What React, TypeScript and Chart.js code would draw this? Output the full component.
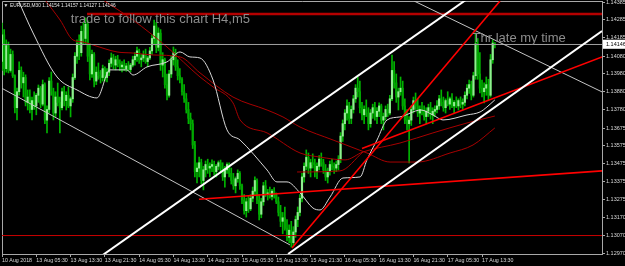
import React, { useEffect, useRef } from 'react';
import { Chart, registerables } from 'chart.js';

Chart.register(...registerables);

// ---------- candle data (EURUSD M30) ----------
const opens = [
  1.14050,1.14200,1.14010,1.14140,1.14000,1.14090,1.13970,1.13790,1.13880,1.14000,
  1.13930,1.13960,1.13820,1.13850,1.13780,1.13830,1.13800,1.13860,1.13900,1.13810,
  1.13920,1.13720,1.13780,1.13940,1.13880,1.13760,1.13850,1.13820,1.13790,1.13880,
  1.13830,1.13860,1.13800,1.13840,1.13960,1.14080,1.14150,1.14100,1.14220,1.14180,
  1.14260,1.14080,1.13980,1.14090,1.13940,1.13990,1.13970,1.13960,1.14010,1.13960,
  1.13990,1.14040,1.14070,1.14030,1.14060,1.14040,1.14020,1.14030,1.14010,1.14025,
  1.14005,1.14030,1.14060,1.14080,1.14110,1.14060,1.14070,1.14090,1.14050,1.14070,
  1.14110,1.14180,1.14250,1.14130,1.14210,1.14030,1.14060,1.13920,1.13860,1.13980,
  1.14060,1.14100,1.14020,1.13970,1.13950,1.13880,1.13840,1.13780,1.13730,1.13700,
  1.13580,1.13430,1.13450,1.13480,1.13380,1.13440,1.13470,1.13450,1.13460,1.13470,
  1.13430,1.13460,1.13480,1.13450,1.13400,1.13440,1.13470,1.13420,1.13380,1.13350,
  1.13390,1.13420,1.13350,1.13270,1.13210,1.13260,1.13220,1.13280,1.13320,1.13380,
  1.13270,1.13190,1.13260,1.13350,1.13300,1.13310,1.13290,1.13320,1.13300,1.13260,
  1.13200,1.13150,1.13170,1.13110,1.13060,1.13100,1.13030,1.13090,1.13160,1.13200,
  1.13280,1.13400,1.13460,1.13510,1.13450,1.13480,1.13470,1.13430,1.13460,1.13500,
  1.13480,1.13440,1.13400,1.13430,1.13470,1.13460,1.13450,1.13470,1.13500,1.13630,
  1.13700,1.13760,1.13800,1.13730,1.13780,1.13840,1.13900,1.13880,1.13790,1.13750,
  1.13780,1.13760,1.13700,1.13760,1.13790,1.13740,1.13770,1.13800,1.13720,1.13740,
  1.13780,1.13760,1.13840,1.14000,1.13930,1.13850,1.13880,1.13900,1.13800,1.13720,
  1.13700,1.13720,1.13780,1.13830,1.13800,1.13760,1.13780,1.13770,1.13740,1.13770,
  1.13790,1.13750,1.13770,1.13780,1.13800,1.13840,1.13820,1.13790,1.13830,1.13810,
  1.13840,1.13800,1.13820,1.13800,1.13830,1.13810,1.13820,1.13860,1.13900,1.13920,
  1.13860,1.13970,1.14150,1.13980,1.13900,1.13880,1.13900,1.13920,1.13860,1.14060,
  1.14154,
];
const highs = [
  1.14267,1.14230,1.14172,1.14160,1.14120,1.14110,1.13975,1.13900,1.14048,1.14020,
  1.13990,1.13975,1.13890,1.13890,1.13850,1.13880,1.13870,1.13918,1.13910,1.13946,
  1.13930,1.13800,1.13960,1.13991,1.13900,1.13880,1.13929,1.13850,1.13900,1.13910,
  1.13880,1.13907,1.13850,1.13980,1.14100,1.14172,1.14200,1.14250,1.14270,1.14296,
  1.14280,1.14150,1.14115,1.14100,1.14020,1.14042,1.14000,1.14030,1.14020,1.14010,
  1.14060,1.14098,1.14090,1.14080,1.14085,1.14059,1.14050,1.14059,1.14040,1.14050,
  1.14040,1.14080,1.14100,1.14132,1.14120,1.14090,1.14110,1.14120,1.14080,1.14130,
  1.14200,1.14284,1.14270,1.14240,1.14230,1.14100,1.14070,1.13980,1.14000,1.14080,
  1.14132,1.14120,1.14060,1.14010,1.13960,1.13920,1.13870,1.13820,1.13760,1.13721,
  1.13600,1.13480,1.13512,1.13500,1.13460,1.13490,1.13500,1.13480,1.13496,1.13490,
  1.13470,1.13490,1.13495,1.13480,1.13460,1.13480,1.13479,1.13450,1.13420,1.13400,
  1.13440,1.13430,1.13360,1.13300,1.13280,1.13290,1.13300,1.13343,1.13400,1.13390,
  1.13300,1.13280,1.13370,1.13380,1.13330,1.13343,1.13330,1.13340,1.13310,1.13287,
  1.13240,1.13200,1.13230,1.13160,1.13130,1.13150,1.13120,1.13180,1.13231,1.13300,
  1.13420,1.13480,1.13552,1.13535,1.13500,1.13530,1.13500,1.13480,1.13520,1.13535,
  1.13500,1.13470,1.13450,1.13490,1.13500,1.13480,1.13490,1.13520,1.13650,1.13721,
  1.13780,1.13834,1.13820,1.13800,1.13860,1.13920,1.13963,1.13940,1.13820,1.13800,
  1.13834,1.13790,1.13780,1.13810,1.13820,1.13790,1.13817,1.13810,1.13760,1.13800,
  1.13810,1.13860,1.14087,1.14050,1.13980,1.13900,1.13963,1.13940,1.13840,1.13780,
  1.13740,1.13800,1.13850,1.13873,1.13840,1.13800,1.13820,1.13800,1.13790,1.13810,
  1.13820,1.13790,1.13800,1.13830,1.13860,1.13890,1.13850,1.13840,1.13880,1.13850,
  1.13870,1.13830,1.13851,1.13840,1.13851,1.13840,1.13880,1.13920,1.13946,1.13940,
  1.13990,1.14211,1.14180,1.14100,1.13946,1.13930,1.13963,1.13950,1.14090,1.14172,
  1.14157,
];
const lows = [
  1.14000,1.13974,1.13990,1.13986,1.13990,1.13960,1.13760,1.13721,1.13860,1.13900,
  1.13850,1.13800,1.13777,1.13760,1.13721,1.13780,1.13750,1.13820,1.13790,1.13800,
  1.13700,1.13648,1.13760,1.13860,1.13721,1.13740,1.13800,1.13648,1.13777,1.13800,
  1.13777,1.13790,1.13738,1.13820,1.13950,1.14040,1.14060,1.14080,1.14150,1.14150,
  1.14050,1.13946,1.13960,1.13907,1.13920,1.13950,1.13929,1.13940,1.13940,1.13935,
  1.13970,1.14020,1.14010,1.14003,1.14020,1.14000,1.13991,1.14000,1.13995,1.14000,
  1.13991,1.14020,1.14030,1.14050,1.14040,1.14020,1.14050,1.14040,1.14020,1.14060,
  1.14090,1.14150,1.14100,1.14110,1.14000,1.13963,1.13900,1.13834,1.13850,1.13960,
  1.14030,1.14000,1.13946,1.13930,1.13860,1.13820,1.13760,1.13700,1.13665,1.13560,
  1.13400,1.13366,1.13400,1.13360,1.13327,1.13400,1.13420,1.13400,1.13430,1.13410,
  1.13400,1.13440,1.13430,1.13380,1.13343,1.13420,1.13400,1.13360,1.13330,1.13310,
  1.13370,1.13330,1.13250,1.13190,1.13174,1.13200,1.13210,1.13260,1.13300,1.13250,
  1.13158,1.13170,1.13240,1.13290,1.13270,1.13280,1.13270,1.13280,1.13250,1.13180,
  1.13120,1.13080,1.13100,1.13040,1.13028,1.13005,1.13010,1.13060,1.13120,1.13180,
  1.13260,1.13370,1.13440,1.13420,1.13400,1.13450,1.13400,1.13390,1.13440,1.13460,
  1.13420,1.13380,1.13366,1.13410,1.13440,1.13420,1.13430,1.13439,1.13480,1.13600,
  1.13665,1.13720,1.13700,1.13700,1.13760,1.13820,1.13850,1.13760,1.13721,1.13700,
  1.13740,1.13665,1.13680,1.13730,1.13720,1.13700,1.13740,1.13700,1.13665,1.13720,
  1.13740,1.13750,1.13830,1.13900,1.13820,1.13777,1.13860,1.13780,1.13700,1.13665,
  1.13479,1.13690,1.13760,1.13780,1.13740,1.13700,1.13750,1.13720,1.13700,1.13740,
  1.13725,1.13700,1.13740,1.13760,1.13780,1.13800,1.13770,1.13760,1.13800,1.13780,
  1.13790,1.13760,1.13790,1.13777,1.13790,1.13780,1.13800,1.13840,1.13870,1.13834,
  1.13850,1.13950,1.13950,1.13873,1.13851,1.13817,1.13860,1.13834,1.13850,1.14040,
  1.14127,
];
const closes = [
  1.14200,1.14010,1.14140,1.14000,1.14090,1.13970,1.13790,1.13880,1.14000,1.13930,
  1.13960,1.13820,1.13850,1.13780,1.13830,1.13800,1.13860,1.13900,1.13810,1.13920,
  1.13720,1.13780,1.13940,1.13880,1.13760,1.13850,1.13820,1.13790,1.13880,1.13830,
  1.13860,1.13800,1.13840,1.13960,1.14080,1.14150,1.14100,1.14220,1.14180,1.14260,
  1.14080,1.13980,1.14090,1.13940,1.13990,1.13970,1.13960,1.14010,1.13960,1.13990,
  1.14040,1.14070,1.14030,1.14060,1.14040,1.14020,1.14030,1.14010,1.14025,1.14005,
  1.14030,1.14060,1.14080,1.14110,1.14060,1.14070,1.14090,1.14050,1.14070,1.14110,
  1.14180,1.14250,1.14130,1.14210,1.14030,1.14060,1.13920,1.13860,1.13980,1.14060,
  1.14100,1.14020,1.13970,1.13950,1.13880,1.13840,1.13780,1.13730,1.13700,1.13580,
  1.13430,1.13450,1.13480,1.13380,1.13440,1.13470,1.13450,1.13460,1.13470,1.13430,
  1.13460,1.13480,1.13450,1.13400,1.13440,1.13470,1.13420,1.13380,1.13350,1.13390,
  1.13420,1.13350,1.13270,1.13210,1.13260,1.13220,1.13280,1.13320,1.13380,1.13270,
  1.13190,1.13260,1.13350,1.13300,1.13310,1.13290,1.13320,1.13300,1.13260,1.13200,
  1.13150,1.13170,1.13110,1.13060,1.13100,1.13030,1.13090,1.13160,1.13200,1.13280,
  1.13400,1.13460,1.13510,1.13450,1.13480,1.13470,1.13430,1.13460,1.13500,1.13480,
  1.13440,1.13400,1.13430,1.13470,1.13460,1.13450,1.13470,1.13500,1.13630,1.13700,
  1.13760,1.13800,1.13730,1.13780,1.13840,1.13900,1.13880,1.13790,1.13750,1.13780,
  1.13760,1.13700,1.13760,1.13790,1.13740,1.13770,1.13800,1.13720,1.13740,1.13780,
  1.13760,1.13840,1.14000,1.13930,1.13850,1.13880,1.13900,1.13800,1.13720,1.13700,
  1.13720,1.13780,1.13830,1.13800,1.13760,1.13780,1.13770,1.13740,1.13770,1.13790,
  1.13750,1.13770,1.13780,1.13800,1.13840,1.13820,1.13790,1.13830,1.13810,1.13840,
  1.13800,1.13820,1.13800,1.13830,1.13810,1.13820,1.13860,1.13900,1.13920,1.13860,
  1.13970,1.14150,1.13980,1.13900,1.13880,1.13900,1.13920,1.13860,1.14060,1.14154,
  1.14146,
];

// ---------- axes ----------
const xTickIndex = [0, 16, 32, 48, 64, 80, 96, 112, 128, 144, 160, 176, 192, 208, 224];
const xTickLabels = [
  '10 Aug 2018', '13 Aug 05:30', '13 Aug 13:30', '13 Aug 21:30', '14 Aug 05:30',
  '14 Aug 13:30', '14 Aug 21:30', '15 Aug 05:30', '15 Aug 13:30', '15 Aug 21:30',
  '16 Aug 05:30', '16 Aug 13:30', '16 Aug 21:30', '17 Aug 05:30', '17 Aug 13:30',
];
const yTickValues = [
  1.1297, 1.1307, 1.1317, 1.13275, 1.13375, 1.13475, 1.13575, 1.13675,
  1.1378, 1.1388, 1.1398, 1.1408, 1.14146, 1.14185, 1.14285, 1.14385,
];
const lastPrice = 1.14146;
const ohlcHeader = 'EURUSD,M30 1.14154 1.14157 1.14127 1.14146';

// ---------- indicators (moving averages), bar index / price ----------
const maWhiteIdx = [7.5, 14.5, 25.7, 35, 44.3, 50.4, 58.3, 61.1, 67.7, 77, 83.1, 87.7, 92.4, 98.5, 105, 111.1, 123.7, 128.3, 133, 139.1, 145.1, 148.4, 153.1, 159.1, 167.1, 170.3, 175, 179.7, 185.7, 195.5, 201.1, 205.8, 217, 223.1, 226.3, 230];
const maWhiteVal = [1.14397, 1.14211, 1.13963, 1.1389, 1.13845, 1.14003, 1.14003, 1.13974, 1.1402, 1.14048, 1.14104, 1.14076, 1.1407, 1.13946, 1.13665, 1.13608, 1.13439, 1.13372, 1.13372, 1.1331, 1.13225, 1.13214, 1.13287, 1.13394, 1.134, 1.13496, 1.13608, 1.13721, 1.13738, 1.13777, 1.13749, 1.13721, 1.13749, 1.13766, 1.13794, 1.13834];
const maSlowIdx = [20.1, 27.1, 33.1, 37.8, 42.5, 53.7, 61.1, 70.5, 83.1, 92.4, 107.8, 123.7, 131.1, 139.1, 154.5, 170.3, 181.1, 193.7, 209.1, 219.8, 230];
const maSlowVal = [1.14397, 1.14284, 1.14172, 1.1416, 1.14143, 1.14104, 1.14098, 1.14087, 1.14076, 1.13986, 1.1385, 1.13777, 1.13738, 1.13681, 1.13608, 1.13535, 1.13484, 1.13484, 1.13535, 1.1358, 1.13676];
const maMidIdx = [47.1, 61.1, 77, 92.4, 98.5, 107.8, 111.1, 123.7, 139.1, 148.4, 160.1, 168.5, 185.7, 201.1, 217, 230];
const maMidVal = [1.14397, 1.14284, 1.14132, 1.13963, 1.13907, 1.13817, 1.13721, 1.13648, 1.13535, 1.13512, 1.13496, 1.13541, 1.13591, 1.13648, 1.13704, 1.13743];
const maShortIdx = [137.7, 157.7, 168.5];
const maShortVal = [1.13428, 1.13434, 1.13541];

// ---------- drawn objects: [bar index, price] ----------
const bidLine = [[0, 1.14146], [280, 1.14146]];
const resistanceLine = [[39.7, 1.14318], [280, 1.14318]];
const supportLine = [[0, 1.1307], [280, 1.1307]];
const descLineA = [[0, 1.13899], [134.4, 1.13017]];
const descLineB = [[192.3, 1.14391], [280, 1.13879]];
const channelUpper = [[45, 1.12943], [220, 1.14427]];
const channelLower = [[133.5, 1.12966], [280, 1.14222]];
const redSteep = [[135.3, 1.13], [232.4, 1.14391]];
const redShallow = [[91.9, 1.13274], [280, 1.13434]];
const redRight = [[168, 1.1356], [280, 1.14076]];

const noteTexts = ['trade to follow this chart H4,m5', 'Thr late my time'];
const noteIdx = [32.1, 219.6];
const notePrice = [1.14265, 1.1416];

// ---------- styles ----------
const BULL = '#90ee90';
const BEAR = '#00a800';
const WICK = '#00b400';
const AXIS = '#a8a8a8';
const LABEL = '#d8d8d8';
const FONT = '"Liberation Sans", Arial, "DejaVu Sans", sans-serif';

export default function App() {
  const ref = useRef<HTMLCanvasElement | null>(null);

  useEffect(() => {
    if (!ref.current) return;
    const idx = closes.map((_, i) => i);
    const wickData = idx.map((i) => ({ x: i, y: [lows[i], highs[i]] }));
    const bodyData = idx.map((i) => ({ x: i, y: [opens[i], closes[i]] }));
    const bodyColors = idx.map((i) => (closes[i] >= opens[i] ? BULL : BEAR));
    const pts = (xs: number[], ys: number[]) => xs.map((x, k) => ({ x, y: ys[k] }));
    const seg = (p: number[][]) => p.map(([x, y]) => ({ x, y }));

    const lineDs = (data: any[], color: string, width: number, order: number, smooth = false) => ({
      type: 'line' as const,
      data,
      borderColor: color,
      borderWidth: width,
      pointRadius: 0,
      pointHoverRadius: 0,
      fill: false,
      clip: 0,
      order,
      cubicInterpolationMode: smooth ? ('monotone' as const) : ('default' as const),
      tension: 0,
    });

    const framePlugin = {
      id: 'frame',
      beforeDatasetsDraw(chart: any) {
        const { ctx, chartArea: a } = chart;
        ctx.save();
        ctx.strokeStyle = AXIS;
        ctx.lineWidth = 1;
        ctx.beginPath();
        ctx.moveTo(a.left + 0.5, a.bottom);
        ctx.lineTo(a.left + 0.5, a.top + 0.5);
        ctx.lineTo(a.right, a.top + 0.5);
        ctx.stroke();
        ctx.restore();
      },
    };

    const textPlugin = {
      id: 'notes',
      afterDatasetsDraw(chart: any) {
        const { ctx, chartArea: a, scales } = chart;
        ctx.save();
        ctx.beginPath();
        ctx.rect(a.left, a.top, a.right - a.left, a.bottom - a.top);
        ctx.clip();
        ctx.font = `13px ${FONT}`;
        ctx.fillStyle = '#8c8c8c';
        ctx.textAlign = 'left';
        ctx.textBaseline = 'alphabetic';
        noteTexts.forEach((t, k) => {
          ctx.fillText(t, scales.x.getPixelForValue(noteIdx[k]), scales.y.getPixelForValue(notePrice[k]));
        });
        ctx.font = `4.8px ${FONT}`;
        ctx.fillStyle = '#e8e8e8';
        ctx.textBaseline = 'middle';
        ctx.fillText('\u25BC', a.left + 1.5, a.top + 4.5);
        ctx.fillText(ohlcHeader, a.left + 8, a.top + 4.5);
        ctx.restore();
      },
    };

    const chart = new Chart(ref.current, {
      type: 'bar',
      data: {
        datasets: [
          lineDs(seg(channelUpper), '#ffffff', 2, 1),
          lineDs(seg(channelLower), '#ffffff', 2, 1),
          lineDs(seg(redSteep), '#ff0000', 1.6, 1),
          lineDs(seg(redShallow), '#ff0000', 1.6, 1),
          lineDs(seg(redRight), '#ff0000', 1.6, 1),
          lineDs(seg(descLineA), '#c4c4c4', 1, 2),
          lineDs(seg(descLineB), '#c4c4c4', 1, 2),
          lineDs(seg(resistanceLine), '#b40000', 2.5, 2),
          lineDs(seg(supportLine), '#c80000', 1, 2),
          lineDs(seg(bidLine), '#a0a0a0', 1, 3),
          lineDs(pts(maWhiteIdx, maWhiteVal), '#d8d8d8', 1, 4, true),
          lineDs(pts(maSlowIdx, maSlowVal), '#a80000', 1, 4, true),
          lineDs(pts(maMidIdx, maMidVal), '#a80000', 1, 4, true),
          lineDs(pts(maShortIdx, maShortVal), '#a80000', 1, 4, true),
          {
            type: 'bar' as const,
            data: bodyData as any,
            backgroundColor: bodyColors,
            borderWidth: 0,
            barThickness: 1.5,
            grouped: false,
            order: 9,
          },
          {
            type: 'bar' as const,
            data: wickData as any,
            backgroundColor: WICK,
            borderWidth: 0,
            barThickness: 1,
            grouped: false,
            order: 10,
          },
        ] as any,
      },
      options: {
        responsive: false,
        maintainAspectRatio: false,
        devicePixelRatio: 1,
        animation: false,
        events: [],
        layout: { padding: { left: 2, top: 1, right: 0, bottom: 0 } },
        plugins: { legend: { display: false }, tooltip: { enabled: false } },
        scales: {
          x: {
            type: 'linear',
            min: 0,
            max: 280,
            offset: false,
            grid: { display: true, offset: false, drawOnChartArea: false, drawTicks: true, tickLength: 3, color: AXIS },
            border: { display: true, color: AXIS, width: 1 },
            ticks: {
              autoSkip: false,
              maxRotation: 0,
              minRotation: 0,
              align: 'start',
              padding: 0,
              color: LABEL,
              font: { family: FONT, size: 5.3 },
              callback: (_v: any, k: number) => xTickLabels[k] ?? '',
            },
            afterBuildTicks: (s: any) => {
              s.ticks = xTickIndex.map((v) => ({ value: v }));
            },
            afterFit: (s: any) => {
              s.height = 12;
              s.paddingLeft = 0;
              s.paddingRight = 0;
            },
          },
          y: {
            type: 'linear',
            position: 'right',
            min: 1.12966,
            max: 1.14391,
            grid: { display: true, drawOnChartArea: false, drawTicks: true, tickLength: 3, color: AXIS },
            border: { display: true, color: AXIS, width: 1 },
            ticks: {
              autoSkip: false,
              padding: 1,
              font: { family: FONT, size: 5.5 },
              color: (c: any) => (c.tick && c.tick.value === lastPrice ? '#000000' : LABEL),
              showLabelBackdrop: (c: any) => !!(c.tick && c.tick.value === lastPrice),
              backdropColor: '#ffffff',
              backdropPadding: { top: 1.5, bottom: 1, left: 3, right: 4 },
              callback: (v: any) => Number(v).toFixed(5),
            },
            afterBuildTicks: (s: any) => {
              s.ticks = yTickValues.map((v) => ({ value: v }));
            },
            afterFit: (s: any) => {
              s.width = 23;
              s.paddingTop = 0;
              s.paddingBottom = 0;
            },
          },
        },
      } as any,
      plugins: [framePlugin, textPlugin],
    });

    return () => chart.destroy();
  }, []);

  return (
    <div style={{ position: 'fixed', left: 0, top: 0, width: 625, height: 266, background: '#000', overflow: 'hidden' }}>
      <canvas ref={ref} width={625} height={266} style={{ display: 'block', width: 625, height: 266 }} />
    </div>
  );
}
